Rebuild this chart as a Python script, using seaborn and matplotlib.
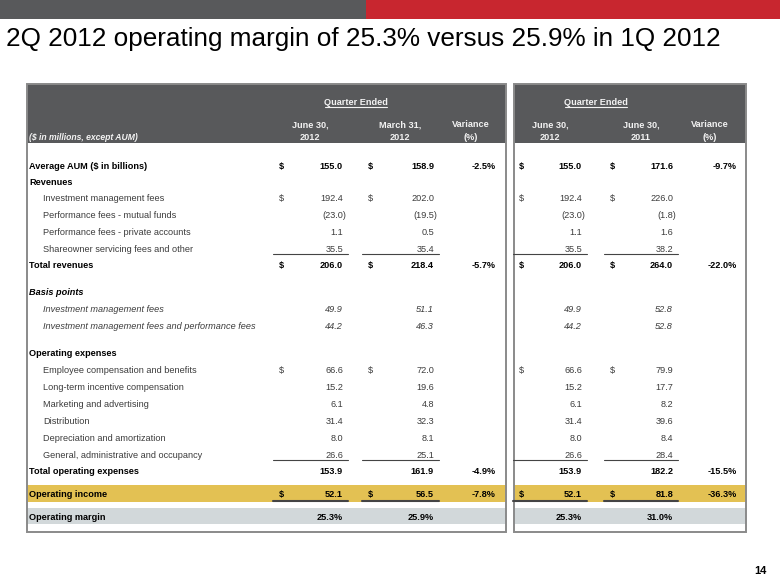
import matplotlib
matplotlib.use('Agg')
import matplotlib.pyplot as plt
import seaborn as sns

# Data
title = "2Q 2012 operating margin of 25.3% versus 25.9% in 1Q 2012"
row_labels = ['Average AUM ($ in billions)', 'Revenues', 'Investment management fees',
              'Performance fees - mutual funds', 'Performance fees - private accounts',
              'Shareowner servicing fees and other', 'Total revenues', 'Basis points',
              'Investment management fees', 'Investment management fees and performance fees',
              'Operating expenses', 'Employee compensation and benefits',
              'Long-term incentive compensation', 'Marketing and advertising', 'Distribution',
              'Depreciation and amortization', 'General, administrative and occupancy',
              'Total operating expenses', 'Operating income', 'Operating margin']
row_kind = ['bold', 'bold', 'sub', 'sub', 'sub', 'sub', 'bold', 'bolditalic', 'subitalic',
            'subitalic', 'bold', 'sub', 'sub', 'sub', 'sub', 'sub', 'sub', 'bold', 'bold', 'bold']
jun_2012 = [155.0, None, 192.4, -23.0, 1.1, 35.5, 206.0, None, 49.9, 44.2, None,
            66.6, 15.2, 6.1, 31.4, 8.0, 26.6, 153.9, 52.1, 25.3]
mar_2012 = [158.9, None, 202.0, -19.5, 0.5, 35.4, 218.4, None, 51.1, 46.3, None,
            72.0, 19.6, 4.8, 32.3, 8.1, 25.1, 161.9, 56.5, 25.9]
var_qoq = [-2.5, None, None, None, None, None, -5.7, None, None, None, None,
           None, None, None, None, None, None, -4.9, -7.8, None]
jun_2011 = [171.6, None, 226.0, -1.8, 1.6, 38.2, 264.0, None, 52.8, 52.8, None,
            79.9, 17.7, 8.2, 39.6, 8.4, 28.4, 182.2, 81.8, 31.0]
var_yoy = [-9.7, None, None, None, None, None, -22.0, None, None, None, None,
           None, None, None, None, None, None, -15.5, -36.3, None]
dollar_rows = [0, 2, 6, 11, 18]
underline_rows = [5, 16]
pct_rows = [19]
col_headers = [('June 30,', '2012'), ('March 31,', '2012'), ('Variance', '(%)'),
               ('June 30,', '2012'), ('June 30,', '2011'), ('Variance', '(%)')]

# Layout (pixels)
row_y = [166, 182, 198, 215, 232, 249, 265, 292, 309, 326, 353, 370, 387, 404,
         421, 438, 455, 471, 494, 517]
dollar_x = [281, 370, 521, 612]
value_right = [343, 434, 582, 673]
var_right = [496, 737]
header_cx = [310, 400, 471, 550, 641, 710]
panels = [(27, 506), (514, 746)]

GRAY = '#58595b'
RED = '#c8262f'
GOLD = '#e3c153'
BAND = '#d2d8da'
TXT = '#3c3c3c'

sns.set_theme(style='white')
plt.rcParams['font.family'] = ['Liberation Sans', 'DejaVu Sans']

fig = plt.figure(figsize=(7.8, 5.85), dpi=100)
ax = fig.add_axes([0, 0, 1, 1])
ax.set_xlim(0, 780)
ax.set_ylim(585, 0)
ax.axis('off')

# top bar
ax.axhspan(0, 19, xmin=0, xmax=366 / 780, color=GRAY, lw=0)
ax.axhspan(0, 19, xmin=366 / 780, xmax=1, color=RED, lw=0)
ax.text(6, 46, title, fontsize=18.8, va='baseline', ha='left', color='black')

fs = 6.6
off = 3.3  # centre -> baseline
for x0, x1 in panels:
    ax.add_patch(plt.Rectangle((x0, 84), x1 - x0, 59, color=GRAY, lw=0))
    ax.add_patch(plt.Rectangle((x0, 485), x1 - x0, 17, color=GOLD, lw=0))
    ax.add_patch(plt.Rectangle((x0, 508), x1 - x0, 16, color=BAND, lw=0))
    ax.add_patch(plt.Rectangle((x0, 84), x1 - x0, 448, fill=False, ec='#8a8a8a', lw=1.4))

# headers
for cx in (356, 596):
    ax.text(cx, 102 + off, 'Quarter Ended', fontsize=fs, fontweight='bold', color='#f2f2f2',
            ha='center', va='baseline')
    ax.plot([cx - 31, cx + 31], [107, 107], color='#f2f2f2', lw=0.8)
for cx, (h1, h2) in zip(header_cx, col_headers):
    ax.text(cx, 124 + off, h1, fontsize=fs, fontweight='bold', color='#f2f2f2',
            ha='center', va='baseline')
    ax.text(cx, 137 + off, h2, fontsize=fs, fontweight='bold', color='#f2f2f2',
            ha='center', va='baseline')
ax.text(29, 137 + off, '($ in millions, except AUM)', fontsize=fs - 0.4, fontweight='bold',
        fontstyle='italic', color='#f2f2f2', ha='left', va='baseline')


def fmt(v, i):
    if v is None:
        return ''
    if i in pct_rows:
        return f'{v:.1f}%'
    if v < 0:
        return f'({-v:.1f})'
    return f'{v:.1f}'


value_cols = [jun_2012, mar_2012, jun_2012, jun_2011]
var_cols = [var_qoq, var_yoy]

for i, label in enumerate(row_labels):
    y = row_y[i]
    yb = y + off
    kind = row_kind[i]
    bold = 'bold' in kind
    italic = 'italic' in kind
    x = 43 if kind.startswith('sub') else 29
    color = 'black' if bold else TXT
    weight = 'bold' if bold else 'normal'
    style = 'italic' if italic else 'normal'
    ax.text(x, yb, label, fontsize=fs, fontweight=weight, fontstyle=style, color=color,
            ha='left', va='baseline')
    for c, col in enumerate(value_cols):
        s = fmt(col[i], i)
        if not s:
            continue
        dx = 3 if s.startswith('(') else 0
        ax.text(value_right[c] + dx, yb, s, fontsize=fs, fontweight=weight, fontstyle=style,
                color=color, ha='right', va='baseline')
        if i in dollar_rows:
            ax.text(dollar_x[c], yb, '$', fontsize=fs, fontweight=weight, color=color,
                    ha='center', va='baseline')
        if i in underline_rows:
            ax.plot([dollar_x[c] - 8, value_right[c] + 5], [y + 5, y + 5], color='#444444', lw=0.8)
        if i == 18:
            ax.plot([dollar_x[c] - 8, value_right[c] + 5], [y + 7, y + 7], color='#444444', lw=1.5)
    for c, col in enumerate(var_cols):
        if col[i] is None:
            continue
        ax.text(var_right[c], yb, f'{col[i]:.1f}%', fontsize=fs, fontweight=weight,
                color=color, ha='right', va='baseline')

ax.text(767, 574, '14', fontsize=8, fontweight='bold', color='black', ha='right', va='baseline')

fig.savefig('out.png', dpi=100)
